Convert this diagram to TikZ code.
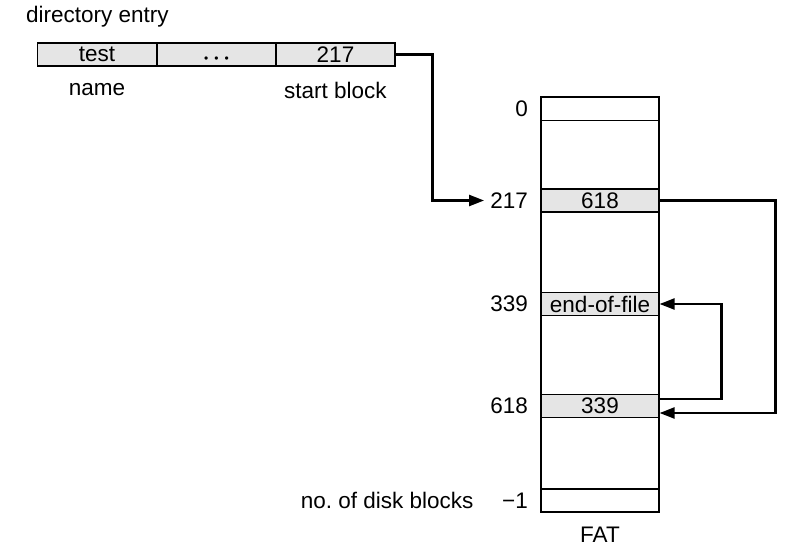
\documentclass[tikz,border=0pt]{standalone}
\usepackage{fontspec}
\setmainfont{Liberation Sans}
\usepackage{xcolor}
\usepackage{tikz}
\usetikzlibrary{arrows.meta, positioning, calc}

\begin{document}
\begin{tikzpicture}[
    x=1pt, y=-1pt,
    font=\fontsize{22.5}{26}\selectfont,
    cell/.style={draw, rectangle, minimum width=119pt, minimum height=23pt, inner sep=0pt, line width=1.2pt, fill=gray!20},
    fatrow/.style={draw, rectangle, minimum width=118pt, minimum height=23pt, inner sep=0pt, line width=1.2pt},
    used/.style={fatrow, fill=gray!20},
    lbl/.style={anchor=east, inner sep=2pt},
    arrow/.style={-{Triangle[length=15pt, width=11pt]}, line width=2.4pt},
]
\useasboundingbox (0,0) rectangle (804,560);

% === DIRECTORY ENTRY ===
\node[anchor=west, inner sep=0pt] (dirtitle) at (26,17) {directory entry};

\node[cell] (name) at (97,54.5) {test};
\node[cell] (dots) at (216.5,54.5) {\vphantom{0}{\fontsize{12}{12}\selectfont\textbullet\hspace{6pt}\textbullet\hspace{6pt}\textbullet}};
\node[cell] (start) at (335.5,54.5) {217};

\node (namelbl) at (97,90) {name};
\node (startlbl) at (335.5,90) {start block};

% === FAT ===
\node[draw, rectangle, minimum width=118pt, minimum height=415pt, line width=1.2pt] (fat) at (600,304.5) {};

% Rows
\node[fatrow] (r0) at (600,109) {};
\node[used] (r217) at (600,200.5) {618};
\node[used] (r339) at (600,304) {end-of-file};
\node[used] (r618) at (600,406) {339};
\node[fatrow] (rlast) at (600,500.5) {};

% Row labels
\node[lbl] (l0) at (530,109) {0};
\node[lbl] (l217) at (530,200.5) {217};
\node[lbl] (l339) at (530,304) {339};
\node[lbl] (l618) at (530,406) {618};
\node[lbl] (llast) at (530,500.5) {no.\ of disk blocks \quad −1};

\node (fatlbl) at (600,535) {FAT};

% Connections
\draw[arrow, shorten >=4pt] (start.east) -- ++(37,0) |- (l217.west);
\draw[arrow] (r217.east) -- ++(116,0) |- ([yshift=-7pt]r618.east);
\draw[arrow] ([yshift=7pt]r618.east) -- ++(62,0) |- (r339.east);

\end{tikzpicture}
\end{document}
